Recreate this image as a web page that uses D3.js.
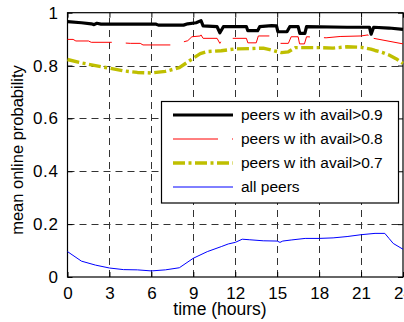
<!DOCTYPE html>
<html><head><meta charset="utf-8">
<script src="https://cdn.jsdelivr.net/npm/d3@7"></script>
<style>body{margin:0;background:#fff}svg{display:block}text{font-family:"Liberation Sans",Arial,sans-serif;fill:#000}</style>
</head><body>
<svg id="c" width="404" height="322"></svg>
<script>
const xTicks = [0,3,6,9,12,15,18,21,24];
const yTicks = [0,0.2,0.4,0.6,0.8,1];
const yTickLabels = ["0","0.2","0.4","0.6","0.8","1"];
const seriesNames = ["peers w ith avail>0.9","peers w ith avail>0.8","peers w ith avail>0.7","all peers"];

const t90 = [0,1.0,1.7,1.9,2.1,2.4,4,6.3,6.5,8.3,8.6,9.2,9.55,9.7,10.7,10.9,11.15,12.8,12.9,13.6,13.75,14.6,14.95,15.05,15.7,15.9,16.5,16.62,16.98,17.1,20,21.6,21.72,21.9,23,24];
const v90 = [0.966,0.962,0.958,0.955,0.960,0.957,0.957,0.957,0.953,0.953,0.958,0.962,0.970,0.950,0.947,0.924,0.947,0.947,0.932,0.932,0.947,0.951,0.950,0.928,0.928,0.947,0.947,0.922,0.922,0.947,0.945,0.945,0.919,0.945,0.942,0.937];

const t80 = [0,0.4,0.6,1.5,1.7,3.3,4.5,5.2,5.4,7.5,8.6,8.9,9.5,9.55,9.7,10.7,10.9,11.1,12.8,12.9,13.5,13.65,14.5,15.1,15.8,16.0,16.5,16.6,16.95,17.1,18.5,19.5,21.0,21.5,21.7,21.9,24];
const v80 = [0.899,0.899,0.893,0.893,0.888,0.888,0.884,0.884,0.878,0.878,0.894,0.909,0.912,0.916,0.903,0.903,0.884,0.903,0.903,0.886,0.886,0.912,0.912,0.884,0.884,0.909,0.909,0.882,0.882,0.909,0.905,0.910,0.912,0.916,0.884,0.903,0.882];

const t70 = [0,1,2,3,4,5,6,7,8,8.5,9,9.5,10,11,12,13,14,14.7,15.3,15.8,16.3,18,19,20,21,21.7,22,22.5,23,23.5,24];
const v70 = [0.823,0.81,0.80,0.79,0.78,0.774,0.772,0.778,0.792,0.81,0.828,0.845,0.853,0.856,0.863,0.864,0.866,0.857,0.849,0.852,0.868,0.868,0.866,0.871,0.869,0.862,0.857,0.85,0.84,0.826,0.808];

const tAll = [0,1,2,3,4,5,6,7,8,9,10,11,11.5,12,12.5,13,14,15,15.2,15.4,16,17,18,19,20,21,22,22.7,23,23.3,24];
const vAll = [0.096,0.06,0.045,0.034,0.028,0.027,0.023,0.027,0.035,0.071,0.096,0.115,0.125,0.131,0.143,0.141,0.137,0.136,0.131,0.136,0.14,0.146,0.146,0.148,0.153,0.16,0.165,0.165,0.146,0.127,0.105];

const svg = d3.select("#c");
const L=67.5, R=403, T=12.7, B=277;
const x = d3.scaleLinear().domain([0,24]).range([L,R]);
const y = d3.scaleLinear().domain([0,1]).range([B,T]);

// grid
const grid = svg.append("g").attr("stroke","#333").attr("stroke-width",1).attr("stroke-dasharray","7,5");
grid.selectAll("line.v").data(xTicks.slice(1,-1)).enter().append("line")
  .attr("x1",d=>Math.round(x(d))+0.5).attr("x2",d=>Math.round(x(d))+0.5).attr("y1",B).attr("y2",T);
grid.selectAll("line.h").data(yTicks.slice(1,-1)).enter().append("line")
  .attr("y1",d=>Math.round(y(d))+0.5).attr("y2",d=>Math.round(y(d))+0.5).attr("x1",L).attr("x2",R);

// axes
const xAxis = d3.axisBottom(x).tickValues(xTicks).tickSize(-5).tickPadding(10);
const gx = svg.append("g").attr("transform",`translate(0,${B})`).call(xAxis);
gx.select(".domain").remove();
gx.selectAll("text").attr("font-size",17).attr("font-family","Liberation Sans, Arial");
const xAxisTop = d3.axisTop(x).tickValues(xTicks).tickSize(-5).tickFormat("");
const gxt = svg.append("g").attr("transform",`translate(0,${T})`).call(xAxisTop);
gxt.select(".domain").remove();
const yAxis = d3.axisLeft(y).tickValues(yTicks).tickSize(-5).tickPadding(9).tickFormat((d,i)=>yTickLabels[i]);
const gy = svg.append("g").attr("transform",`translate(${L},0)`).call(yAxis);
gy.select(".domain").remove();
gy.selectAll("text").attr("font-size",17).attr("font-family","Liberation Sans, Arial").attr("letter-spacing","0.6px");
const yAxisR = d3.axisRight(y).tickValues(yTicks).tickSize(-5).tickFormat("");
const gyr = svg.append("g").attr("transform",`translate(${R},0)`).call(yAxisR);
gyr.select(".domain").remove();
svg.selectAll(".tick line").attr("stroke","#000");

svg.append("rect").attr("x",L).attr("y",T).attr("width",R-L).attr("height",B-T)
  .attr("fill","none").attr("stroke","#000").attr("stroke-width",1.2);

// lines
const styles = [
  {t:t90,v:v90,color:"#000",w:3.2,dash:null},
  {t:t80,v:v80,color:"#ff0000",w:1,dash:"45,14"},
  {t:t70,v:v70,color:"#bfbf00",w:3.4,dash:"12,3.5,3,3.5"},
  {t:tAll,v:vAll,color:"#0000ff",w:1,dash:null}
];
const line = d3.line().x(d=>x(d[0])).y(d=>y(d[1]));
styles.forEach(s=>{
  const pts = s.t.map((t,i)=>[t,s.v[i]]);
  svg.append("path").attr("d",line(pts)).attr("fill","none").attr("stroke",s.color)
    .attr("stroke-width",s.w).attr("stroke-dasharray",s.dash).attr("stroke-linejoin","round");
});

// legend
const lg = svg.append("g");
lg.append("rect").attr("x",161.5).attr("y",101.5).attr("width",237).attr("height",101.5)
  .attr("fill","#fff").attr("stroke","#000").attr("stroke-width",1.2);
const ly = [115,139,163,187];
styles.forEach((s,i)=>{
  lg.append("line").attr("x1",173).attr("x2",233).attr("y1",ly[i]).attr("y2",ly[i])
    .attr("stroke",s.color).attr("stroke-width",s.w).attr("stroke-dasharray",s.dash);
  lg.append("text").attr("x",241).attr("y",ly[i]).attr("dy","0.35em").attr("font-size",15.5).text(seriesNames[i]);
});

// labels
svg.append("text").attr("x",220).attr("y",315).attr("text-anchor","middle").attr("font-size",17.5).text("time (hours)");
svg.append("text").attr("transform","translate(23,150) rotate(-90)").attr("text-anchor","middle").attr("font-size",16.5).text("mean online probability");
</script>
</body></html>
